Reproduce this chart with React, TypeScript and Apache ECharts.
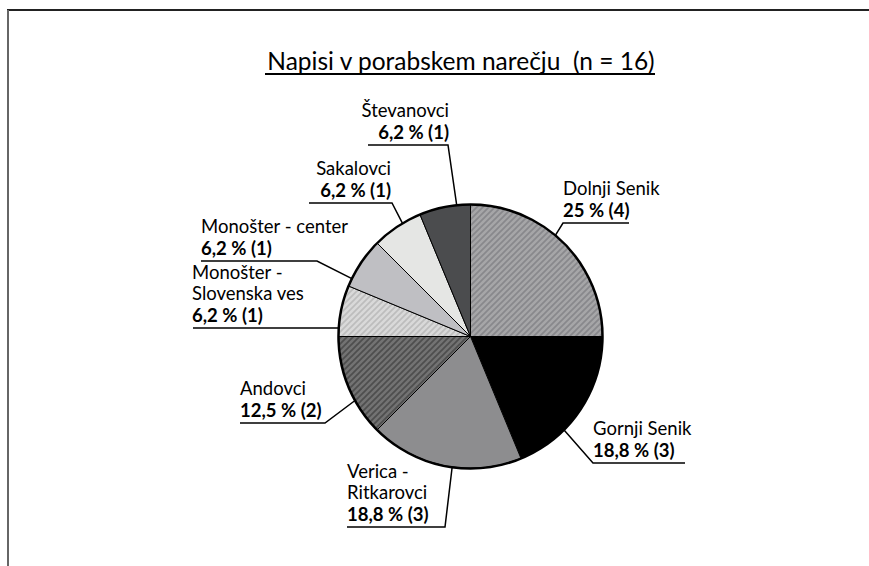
import React, { useEffect, useRef } from 'react';
import * as echarts from 'echarts';

// ---- data ----
const categories = [
  'Dolnji Senik',
  'Gornji Senik',
  'Verica - Ritkarovci',
  'Andovci',
  'Monošter - Slovenska ves',
  'Monošter - center',
  'Sakalovci',
  'Števanovci',
];
const labelNames = [
  'Dolnji Senik',
  'Gornji Senik',
  'Verica -\nRitkarovci',
  'Andovci',
  'Monošter -\nSlovenska ves',
  'Monošter - center',
  'Sakalovci',
  'Števanovci',
];
const counts = [4, 3, 3, 2, 1, 1, 1, 1];
const percentLabels = ['25', '18,8', '18,8', '12,5', '6,2', '6,2', '6,2', '6,2'];
const titleText = 'Napisi v porabskem narečju  (n = 16)';

// ---- styles / layout ----
const FONT = 'Lato, "Noto Sans", "DejaVu Sans", sans-serif';
const CX = 470.5;
const CY = 336.5;
const R = 132;

const sliceColors = ['#a6a6a8', '#000000', '#8d8d8f', '#737373', '#d9d9d9', '#bfbfc3', '#e5e6e4', '#4b4c4e'];
// stripe colour for hatched slices (null = solid)
const stripeColors: (string | null)[] = ['#88888c', null, null, '#4e4e4e', '#bdbdbd', null, null, null];

// label anchor config: attach angle (deg, clockwise from top), text x, underline y, elbow x, end x, align
const labelCfg = [
  { ang: 40, tx: 563, uy: 223, ex: 563, endX: 629, align: 'left' },
  { ang: 135, tx: 593, uy: 463, ex: 593, endX: 685, align: 'left' },
  { ang: 188, tx: 347, uy: 527, ex: 445, endX: 347, align: 'left' },
  { ang: 241, tx: 240, uy: 423, ex: 325, endX: 240, align: 'left' },
  { ang: 274, tx: 192, uy: 328, ex: null, endX: 193, align: 'left' },
  { ang: 296, tx: 201, uy: 261, ex: 317, endX: 201, align: 'left' },
  { ang: 329, tx: 391, uy: 203, ex: 392, endX: 309, align: 'right' },
  { ang: 354, tx: 449, uy: 145, ex: 448, endX: 368, align: 'right' },
];

function edgePoint(angDeg: number) {
  const a = (angDeg * Math.PI) / 180;
  return [CX + R * Math.sin(a), CY - R * Math.cos(a)];
}

function stripePattern(base: string, stripe: string) {
  const s = 6;
  const cv = document.createElement('canvas');
  cv.width = s;
  cv.height = s;
  const ctx = cv.getContext('2d')!;
  ctx.fillStyle = base;
  ctx.fillRect(0, 0, s, s);
  ctx.strokeStyle = stripe;
  ctx.lineWidth = 1.7;
  ctx.beginPath();
  ctx.moveTo(-1, s + 1);
  ctx.lineTo(s + 1, -1);
  ctx.moveTo(-2, 2);
  ctx.lineTo(2, -2);
  ctx.moveTo(s - 2, s + 2);
  ctx.lineTo(s + 2, s - 2);
  ctx.stroke();
  return {
    image: cv.toDataURL(),
    imageWidth: s,
    imageHeight: s,
    repeat: 'repeat',
  };
}

export default function App() {
  const ref = useRef<HTMLDivElement>(null);

  useEffect(() => {
    document.body.style.margin = '0';
    document.body.style.overflow = 'hidden';
    document.documentElement.style.overflow = 'hidden';
    if (!ref.current) return;
    const chart = echarts.init(ref.current, undefined, { renderer: 'svg' });

    const data = categories.map((name, i) => {
      const st = stripeColors[i];
      return {
        name,
        value: counts[i],
        itemStyle: {
          color: st ? stripePattern(sliceColors[i], st) : sliceColors[i],
        },
      };
    });

    const option: any = {
      animation: false,
      backgroundColor: '#ffffff',
      title: {
        text: titleText,
        left: 456,
        top: 43,
        textAlign: 'center',
        textStyle: {
          fontFamily: FONT,
          fontSize: 24.5,
          fontWeight: 'normal',
          color: '#000',
        },
      },
      graphic: [
        { type: 'line', shape: { x1: 265, y1: 74, x2: 655, y2: 74 }, style: { stroke: '#000', lineWidth: 2 } },
        { type: 'line', shape: { x1: 7, y1: 10, x2: 869, y2: 10 }, style: { stroke: '#222', lineWidth: 2 } },
        { type: 'line', shape: { x1: 8, y1: 10, x2: 8, y2: 566 }, style: { stroke: '#666', lineWidth: 2 } },
      ],
      series: [
        {
          type: 'pie',
          center: [CX, CY],
          radius: R,
          startAngle: 90,
          clockwise: true,
          data,
          itemStyle: { borderColor: '#000', borderWidth: 1 },
          emphasis: { disabled: true },
          label: {
            show: true,
            position: 'outside',
            formatter: (p: any) => {
              const i = p.dataIndex;
              const nameLines = labelNames[i]
                .split('\n')
                .map((s) => `{n|${s}}`)
                .join('\n');
              return `${nameLines}\n{v|${percentLabels[i]} % (${counts[i]})}`;
            },
            rich: {
              n: { fontFamily: FONT, fontSize: 18.5, color: '#000', lineHeight: 21.5 },
              v: { fontFamily: FONT, fontSize: 18.5, fontWeight: 'bold', color: '#000', lineHeight: 22 },
            },
          },
          labelLine: {
            show: true,
            length: 10,
            length2: 10,
            lineStyle: { color: '#000', width: 1.5 },
          },
          labelLayout: (p: any) => {
            const c = labelCfg[p.dataIndex];
            const a = edgePoint(c.ang);
            const elbow = c.ex == null ? [a[0], c.uy] : [c.ex, c.uy];
            return {
              x: c.tx,
              y: c.uy - 2,
              align: c.align,
              verticalAlign: 'bottom',
              hideOverlap: false,
              labelLinePoints: [a, elbow, [c.endX, c.uy]],
            };
          },
        },
        {
          type: 'pie',
          center: [CX, CY],
          radius: R,
          silent: true,
          data: [{ value: 1, name: 'outline' }],
          itemStyle: { color: 'rgba(0,0,0,0)', borderColor: '#000', borderWidth: 2.5 },
          label: { show: false },
          labelLine: { show: false },
          emphasis: { disabled: true },
        },
      ],
    };

    chart.setOption(option);
    return () => chart.dispose();
  }, []);

  return <div ref={ref} style={{ width: 869, height: 566 }} />;
}
